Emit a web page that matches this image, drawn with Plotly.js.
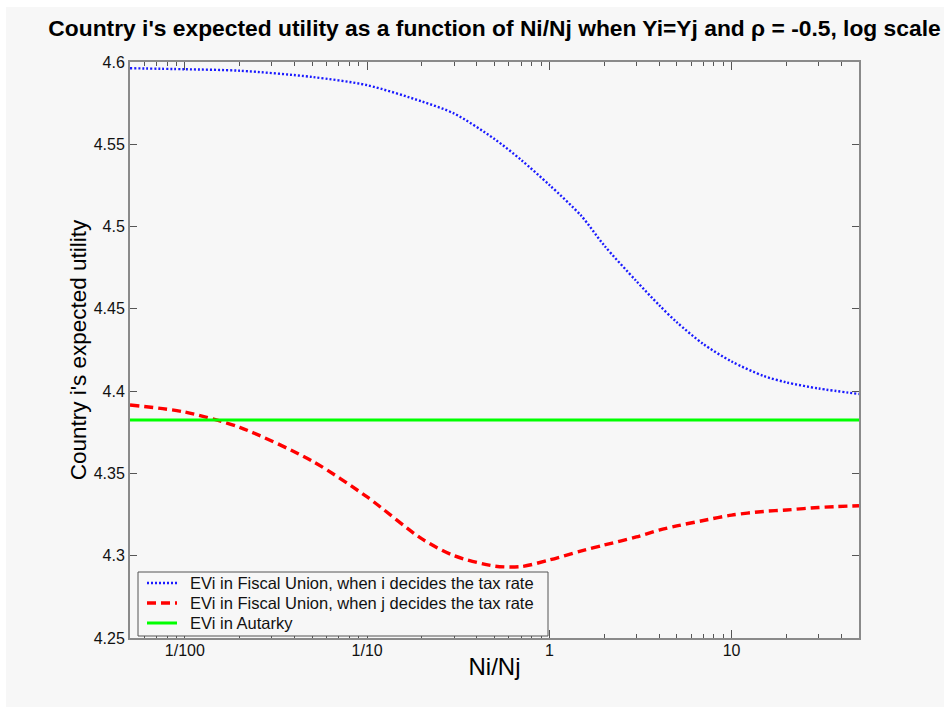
<!DOCTYPE html>
<html>
<head>
<meta charset="utf-8">
<script src="https://cdn.plot.ly/plotly-3.0.1.min.js"></script>
<style>
  html, body { margin: 0; padding: 0; background: #ffffff; }
  #chart { width: 944px; height: 711px; }
</style>
</head>
<body>
<div id="chart"></div>
<script>
// Ratio Ni/Nj (log axis)
const ratio = [0.005, 0.01, 0.02, 0.05, 0.1, 0.2, 0.3, 0.5, 0.7, 1, 1.5, 2, 3, 4, 5, 7, 10, 15, 20, 30, 50];

// EVi in Fiscal Union, when i decides the tax rate
const evUnionI = [4.5962, 4.5956, 4.5947, 4.5909, 4.5859, 4.5760, 4.5687, 4.5532, 4.5405, 4.5253,
                  4.5064, 4.4885, 4.4669, 4.4523, 4.4419, 4.4286, 4.4180, 4.4092, 4.4053, 4.4016, 4.3983];

// EVi in Fiscal Union, when j decides the tax rate
const evUnionJ = [4.3916, 4.3873, 4.3780, 4.3575, 4.3357, 4.3102, 4.3000, 4.2937, 4.2934, 4.2974,
                  4.3029, 4.3065, 4.3114, 4.3156, 4.3181, 4.3214, 4.3247, 4.3269, 4.3278, 4.3293, 4.3304];

// EVi in Autarky (constant)
const evAutarky = 4.3825;

const xTickVals = [0.01, 0.1, 1, 10];
const xTickText = ['1/100', '1/10', '1', '10'];
const yTickVals = [4.25, 4.3, 4.35, 4.4, 4.45, 4.5, 4.55, 4.6];
const yTickText = ['4.25', '4.3', '4.35', '4.4', '4.45', '4.5', '4.55', '4.6'];

const seriesNames = [
  'EVi in Fiscal Union, when i decides the tax rate',
  'EVi in Fiscal Union, when j decides the tax rate',
  'EVi in Autarky'
];

// minor tick positions for the log axis (2..9 within each decade, inside range)
const minorVals = [];
for (let e = -3; e <= 1; e++) {
  for (let m = 2; m <= 9; m++) {
    const v = m * Math.pow(10, e);
    if (v >= 0.005 && v <= 50) minorVals.push(v);
  }
}

const font = 'Liberation Sans, Arial, Helvetica, sans-serif';
const axisCol = '#8a8a8a';
const tickCol = '#555555';

const lineStyles = [
  { color: '#1a1aff', width: 2.4, dash: '2px,2px' },
  { color: '#ff0000', width: 3.4, dash: '9px,5px' },
  { color: '#00ff00', width: 3, dash: 'solid' }
];

const traces = [
  {
    x: ratio, y: evUnionI, type: 'scatter', mode: 'lines', name: seriesNames[0], showlegend: false,
    line: Object.assign({ shape: 'spline', smoothing: 0.8 }, lineStyles[0])
  },
  {
    x: ratio, y: evUnionJ, type: 'scatter', mode: 'lines', name: seriesNames[1], showlegend: false,
    line: Object.assign({ shape: 'spline', smoothing: 0.8 }, lineStyles[1])
  },
  {
    x: [ratio[0], ratio[ratio.length - 1]], y: [evAutarky, evAutarky], type: 'scatter', mode: 'lines',
    name: seriesNames[2], showlegend: false,
    line: lineStyles[2]
  }
];

// ---- legend box (drawn with shapes + annotations, in paper coordinates) ----
const PW = 729, PH = 576, PL = 130, PB = 638;
const px = v => (v - PL) / PW;
const py = v => (PB - v) / PH;
const legendShapes = [
  {
    type: 'rect', xref: 'paper', yref: 'paper', layer: 'above',
    x0: px(138), x1: px(548), y0: py(636), y1: py(572),
    fillcolor: '#f7f7f7', line: { color: '#555555', width: 1 }
  }
];
const legendAnnotations = [];
const rowY = [583, 603, 623];
seriesNames.forEach((name, i) => {
  legendShapes.push({
    type: 'line', xref: 'paper', yref: 'paper', layer: 'above',
    x0: px(147), x1: px(177), y0: py(rowY[i]), y1: py(rowY[i]),
    line: { color: lineStyles[i].color, width: lineStyles[i].width, dash: lineStyles[i].dash }
  });
  legendAnnotations.push({
    text: name, xref: 'paper', yref: 'paper', x: px(188), y: py(rowY[i]),
    xanchor: 'left', yanchor: 'middle', showarrow: false,
    font: { family: font, size: 16.5, color: '#111111' }
  });
});

const layout = {
  width: 944, height: 711,
  margin: { l: 130, r: 85, t: 62, b: 73 },
  paper_bgcolor: '#ffffff',
  plot_bgcolor: '#f7f7f7',
  font: { family: font, color: '#111111', size: 16 },
  showlegend: false,
  title: {
    text: 'Country i\'s expected utility as a function of Ni/Nj when Yi=Yj and \u03c1 = -0.5, log scale',
    font: { family: font, size: 22.8, color: '#000000', weight: 'bold' },
    x: 0.5, xref: 'paper', xanchor: 'center',
    y: 1 - 28 / 711, yref: 'container', yanchor: 'middle'
  },
  xaxis: {
    type: 'log',
    range: [Math.log10(0.005), Math.log10(50)],
    tickmode: 'array', tickvals: xTickVals, ticktext: xTickText,
    ticks: 'inside', ticklen: 8, tickwidth: 1, tickcolor: tickCol,
    minor: { tickmode: 'array', tickvals: minorVals, ticks: 'inside', ticklen: 4, tickwidth: 1, tickcolor: tickCol, showgrid: false },
    showline: true, linecolor: axisCol, linewidth: 2, mirror: 'allticks',
    showgrid: false, zeroline: false,
    tickfont: { family: font, size: 16, color: '#111111' },
    ticklabelstandoff: -3,
    title: { text: 'Ni/Nj', font: { family: font, size: 24, color: '#000000' }, standoff: 0 }
  },
  yaxis: {
    range: [4.25, 4.6],
    tickmode: 'array', tickvals: yTickVals, ticktext: yTickText,
    ticks: 'inside', ticklen: 7, tickwidth: 1, tickcolor: tickCol,
    showline: true, linecolor: axisCol, linewidth: 2, mirror: 'allticks',
    showgrid: false, zeroline: false,
    tickfont: { family: font, size: 16, color: '#111111' },
    title: { text: 'Country i\'s expected utility', font: { family: font, size: 22.5, color: '#000000' }, standoff: 1 }
  },
  annotations: legendAnnotations,
  shapes: [
    {
      type: 'rect', xref: 'paper', yref: 'paper', layer: 'below',
      x0: (6 - 130) / 729, x1: (944 - 130) / 729,
      y0: (638 - 707) / 576, y1: (638 - 7) / 576,
      fillcolor: '#f7f7f7', line: { width: 0 }
    }
  ].concat(legendShapes)
};

Plotly.newPlot('chart', traces, layout, { displayModeBar: false, staticPlot: true });
</script>
</body>
</html>
